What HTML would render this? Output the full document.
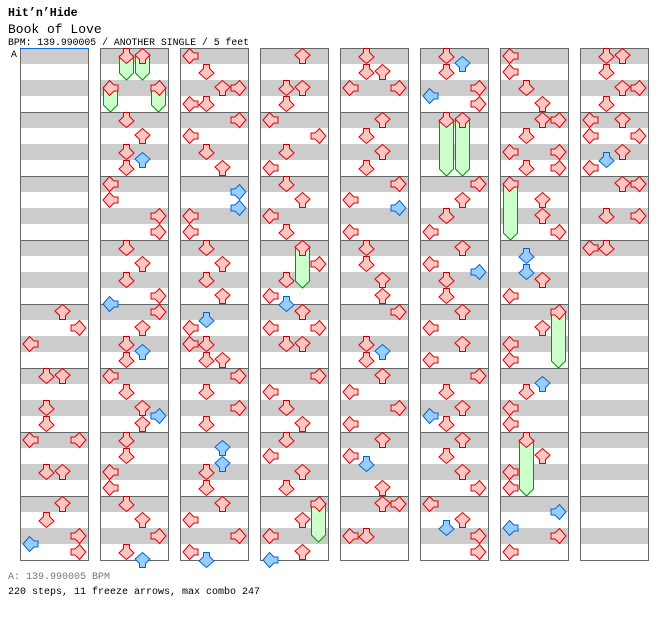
<!DOCTYPE html>
<html><head><meta charset="utf-8"><style>
html,body{margin:0;padding:0;background:#fff;width:672px;height:620px;overflow:hidden}
svg{display:block}
</style></head><body>
<svg id="s" width="672" height="620" xmlns="http://www.w3.org/2000/svg">
<text x="8" y="16" font-family="Liberation Mono, monospace" font-weight="bold" font-size="11.6">Hit’n’Hide</text>
<text x="8" y="33" font-family="Liberation Mono, monospace" font-size="13">Book of Love</text>
<text x="8" y="45" font-family="Liberation Mono, monospace" font-size="9.8">BPM: 139.990005 / ANOTHER SINGLE / 5 feet</text>
<text x="11" y="57" font-family="Liberation Mono, monospace" font-size="9.8">A</text>
<text x="8" y="579" font-family="Liberation Mono, monospace" font-size="10" fill="#777">A: 139.990005 BPM</text>
<text x="8" y="594" font-family="Liberation Mono, monospace" font-size="10">220 steps, 11 freeze arrows, max combo 247</text>
<g id="g"></g>
</svg>
<script>
var cols=[
"32:U 34:R 36:L 40:DU 44:D 46:D 48:LR 52:DU 56:U 58:D 60:R 61:L 62:R",
"0:DU 4:LR 8:D 10:U 12:D 13:U 14:D 16:L 18:L 20:R 22:R 24:D 26:U 28:D 30:R 31:L 32:R 34:U 36:D 37:U 38:D 40:L 42:D 44:U 45:R 46:U 48:D 50:D 52:L 54:L 56:D 58:U 60:R 62:D 63:U",
"0:L 2:D 4:UR 6:LD 8:R 10:L 12:D 14:U 17:R 19:R 20:L 22:L 24:D 26:U 28:D 30:U 33:D 34:L 36:LD 38:DU 40:R 42:D 44:R 46:D 49:U 51:U 52:D 54:D 56:U 58:L 60:R 62:L 63:D",
"0:U 4:DU 6:D 8:L 10:R 12:D 14:L 16:D 18:U 20:L 22:D 24:U 26:R 28:D 30:L 31:D 32:U 34:LR 36:DU 40:R 42:L 44:D 46:U 48:D 50:L 52:U 54:D 56:R 58:U 60:L 62:U 63:L",
"0:D 2:DU 4:LR 8:U 10:D 12:U 14:D 16:R 18:L 19:R 22:L 24:D 26:D 28:U 30:U 32:R 36:D 37:U 38:D 40:U 42:L 44:R 46:L 48:U 50:L 51:D 54:U 56:UR 60:LD",
"0:D 1:U 2:D 4:R 5:L 6:R 8:DU 16:R 18:U 20:D 22:L 24:U 26:L 27:R 28:D 30:D 32:U 34:L 36:U 38:L 40:R 42:D 44:U 45:L 46:D 48:U 50:D 52:U 54:R 56:L 58:U 59:D 60:R 62:R",
"0:L 2:L 4:D 6:U 8:UR 10:D 12:LR 14:DR 16:L 18:U 20:U 22:R 25:D 27:D 28:U 30:L 32:R 34:U 36:L 38:L 41:U 42:D 44:L 46:L 48:D 50:U 52:L 54:L 57:R 59:L 60:R 62:L",
"0:DU 2:D 4:UR 6:D 8:LU 10:LR 12:U 13:D 14:L 16:UR 20:DR 24:LD"];
var frz=[[1,1,0,80],[1,2,0,80],[1,0,4,112],[1,3,4,112],[3,2,24,288],[3,3,56,542],[5,1,8,176],[5,2,8,176],[6,0,16,240],[6,3,32,368],[6,1,48,496]];
var L={L:0,D:1,U:2,R:3},rot={L:90,D:0,U:180,R:-90};
var o='';
for(var c=0;c<8;c++){var x0=20+80*c;
 for(var m=0;m<8;m++){var y=48+64*m;o+='<rect x="'+x0+'" y="'+y+'" width="68" height="16" fill="#ccc"/><rect x="'+x0+'" y="'+(y+32)+'" width="68" height="16" fill="#ccc"/>';
  if(m>0)o+='<line x1="'+x0+'" x2="'+(x0+68)+'" y1="'+(y+.5)+'" y2="'+(y+.5)+'" stroke="#666"/>';}
 o+='<rect x="'+(x0+.5)+'" y="48.5" width="68" height="512" fill="none" stroke="#666"/>';}
o+='<line x1="20" x2="89" y1="48.5" y2="48.5" stroke="#0a6ee0"/>';
frz.forEach(function(f){var x=20+80*f[0]+3+16*f[1],y=48+8*f[2];
 o+='<polygon points="'+(x+.5)+','+(y+8)+' '+(x+14.5)+','+(y+8)+' '+(x+14.5)+','+(f[3]-7)+' '+(x+7.5)+','+f[3]+' '+(x+.5)+','+(f[3]-7)+'" fill="#ccffcc" stroke="#009900"/>';});
var P="4.5,0.5 10.5,0.5 10.5,4.5 15,9 7.5,15.5 0,9 4.5,4.5";
cols.forEach(function(s,c){s.split(' ').forEach(function(e){var p=e.split(':'),i=+p[0],b=i%2==1;
 p[1].split('').forEach(function(d){var x=20+80*c+3+16*L[d],y=48+8*i;
  o+='<polygon transform="translate('+x+','+y+') rotate('+rot[d]+',7.5,8)" points="'+P+'" fill="'+(b?'#99ccff':'#ffc4c4')+'" stroke="'+(b?'#0066dd':'#dd0000')+'"/>';});});});
document.getElementById('g').innerHTML=o;
</script>
</body></html>
